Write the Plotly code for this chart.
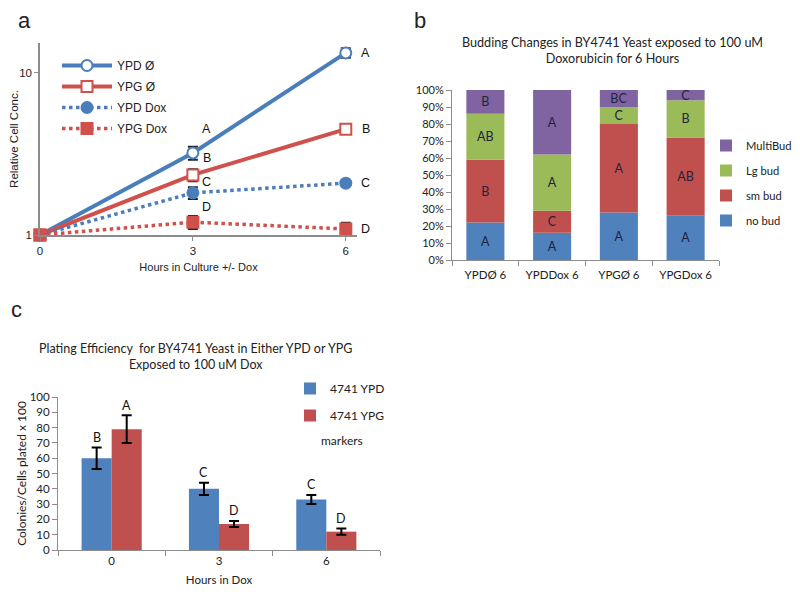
import math
import plotly.graph_objects as go

# ---------------- Panel a data ----------------
hours = [0, 3, 6]
ypd_ctrl = [1.0, 3.21, 13.3]
ypg_ctrl = [1.0, 2.35, 4.5]
ypd_dox = [1.0, 1.82, 2.09]
ypg_dox = [1.0, 1.20, 1.09]
ypd_ctrl_err = [0, 0.3, 0.9]
ypg_ctrl_err = [0, 0.2, 0.2]
ypd_dox_err = [0, 0.15, 0.08]
ypg_dox_err = [0, 0.11, 0.1]
a_letters_3h = ["A", "B", "C", "D"]
a_letters_6h = ["A", "B", "C", "D"]

# ---------------- Panel b data ----------------
b_cats = ["YPDØ 6", "YPDDox 6", "YPGØ 6", "YPGDox 6"]
no_bud = [22, 16, 28, 26]
sm_bud = [37, 13, 52, 46]
lg_bud = [27, 33, 10, 22]
multi_bud = [14, 38, 10, 6]
no_bud_lbl = ["A", "A", "A", "A"]
sm_bud_lbl = ["B", "C", "A", "AB"]
lg_bud_lbl = ["AB", "A", "C", "B"]
multi_bud_lbl = ["B", "A", "BC", "C"]

# ---------------- Panel c data ----------------
c_hours = ["0", "3", "6"]
c_ypd = [60, 40, 33]
c_ypd_err = [7, 4, 3]
c_ypg = [79, 17, 12]
c_ypg_err = [9, 2, 2]
c_ypd_lbl = ["B", "C", "C"]
c_ypg_lbl = ["A", "D", "D"]

BLUE = "#4F81BD"
RED = "#C0504D"
GREEN = "#9BBB59"
PURPLE = "#8064A2"
LA = "#4A7EBB"
LR = "#D0504B"
AX = "#8C8C8C"
TXT = "#222222"
ARIAL = "Liberation Sans, Arial"
CAL = "Lato, Carlito, Calibri"

fig = go.Figure()

# ----- Panel a traces -----
def add_a(name, y, err, color, dash, symbol, fill, grp):
    fig.add_trace(go.Scatter(
        x=hours, y=y, name=name, mode="lines+markers",
        line=dict(color=color, width=4 if dash == "solid" else 3.5, dash=dash),
        marker=dict(symbol=symbol, size=11, color=fill,
                    line=dict(color=color, width=2)),
        error_y=dict(type="data", array=err, color="#222222", thickness=2, width=5),
        xaxis="x", yaxis="y", legend="legend", legendgroup=grp,
        cliponaxis=False))

add_a("YPD Ø", ypd_ctrl, ypd_ctrl_err, LA, "solid", "circle", "white", "g1")
add_a("YPG Ø", ypg_ctrl, ypg_ctrl_err, LR, "solid", "square", "white", "g2")
add_a("YPD Dox", ypd_dox, ypd_dox_err, LA, "dot", "circle", LA, "g3")
add_a("YPG Dox", ypg_dox, ypg_dox_err, LR, "dot", "square", LR, "g4")

annotations = []
series_a = [ypd_ctrl, ypg_ctrl, ypd_dox, ypg_dox]
shifts_3h = [24, 17, 11, 15]
for s, lab, ysh in zip(series_a, a_letters_3h, shifts_3h):
    annotations.append(dict(x=3, y=math.log10(s[1]), xref="x", yref="y",
                            text=lab, showarrow=False, xshift=14, yshift=ysh,
                            font=dict(family=ARIAL, size=12.5, color="#111111")))
for s, lab in zip(series_a, a_letters_6h):
    annotations.append(dict(x=6, y=math.log10(s[2]), xref="x", yref="y",
                            text=lab, showarrow=False, xshift=20,
                            font=dict(family=ARIAL, size=12.5, color="#111111")))

# ----- Panel b traces (stacked through explicit cumulative bases) -----
base = [0] * len(b_cats)
for name, vals, lbl, col, rank in [
    ("no bud", no_bud, no_bud_lbl, BLUE, 4),
    ("sm bud", sm_bud, sm_bud_lbl, RED, 3),
    ("Lg bud", lg_bud, lg_bud_lbl, GREEN, 2),
    ("MultiBud", multi_bud, multi_bud_lbl, PURPLE, 1),
]:
    fig.add_trace(go.Bar(
        x=b_cats, y=vals, base=list(base), name=name,
        marker=dict(color=col, line=dict(width=0)), width=0.57,
        text=lbl, textposition="inside", insidetextanchor="middle", textangle=0,
        constraintext="none",
        textfont=dict(family=CAL, size=12.5, color="#1E2340"),
        xaxis="x2", yaxis="y2", legend="legend2", legendrank=rank,
        legendgroup=name))
    base = [b + v for b, v in zip(base, vals)]

# ----- Panel c traces -----
idx = list(range(len(c_hours)))
bw = 0.28
fig.add_trace(go.Bar(
    x=idx, y=c_ypd, name="4741 YPD", width=bw, offset=-bw,
    marker=dict(color=BLUE, line=dict(width=0)),
    error_y=dict(type="data", array=c_ypd_err, color="black", thickness=2, width=5),
    xaxis="x3", yaxis="y3", legend="legend3", legendgroup="c1"))
fig.add_trace(go.Bar(
    x=idx, y=c_ypg, name="4741 YPG", width=bw, offset=0,
    marker=dict(color=RED, line=dict(width=0)),
    error_y=dict(type="data", array=c_ypg_err, color="black", thickness=2, width=5),
    xaxis="x3", yaxis="y3", legend="legend3", legendgroup="c2"))
for i in idx:
    annotations.append(dict(x=i - bw / 2, y=c_ypd[i] + c_ypd_err[i], xref="x3", yref="y3",
                            text=c_ypd_lbl[i], showarrow=False, yshift=10,
                            font=dict(family=CAL, size=12.5, color="#111111")))
    annotations.append(dict(x=i + bw / 2, y=c_ypg[i] + c_ypg_err[i], xref="x3", yref="y3",
                            text=c_ypg_lbl[i], showarrow=False, yshift=10,
                            font=dict(family=CAL, size=12.5, color="#111111")))

# page body adds an 8px margin; map screenshot pixels to figure fractions
W, H = 800, 592
OFF = 8
def px(x):
    return (x - OFF) / W
def py(y):
    return 1 - (y - OFF) / H

def ptext(x, y, text, family, size, **kw):
    return dict(x=px(x), y=py(y), xref="paper", yref="paper", text=text,
                showarrow=False, xanchor="center", yanchor="middle",
                font=dict(family=family, size=size, color=TXT), **kw)

annotations += [
    ptext(24, 21, "a", ARIAL, 22),
    ptext(420, 21, "b", ARIAL, 22),
    ptext(16, 309, "c", ARIAL, 22),
    ptext(612, 51, "Budding Changes in BY4741 Yeast exposed to 100 uM<br>Doxorubicin for 6 Hours",
          CAL, 12.6, align="center"),
    ptext(195, 356, "Plating Efficiency  for BY4741 Yeast in Either YPD or YPG<br>Exposed to 100 uM Dox",
          CAL, 12.5, align="center"),
    ptext(342, 440, "markers", CAL, 12),
]

fig.update_layout(
    width=W, height=H, margin=dict(l=0, r=0, t=0, b=0, autoexpand=False),
    paper_bgcolor="white", plot_bgcolor="white",
    barmode="overlay",
    annotations=annotations,
    xaxis=dict(domain=[px(40), px(357)], range=[0, 6.22], tickvals=hours,
               ticks="outside", ticklen=4, tickcolor=AX, showgrid=False, zeroline=False,
               showline=True, linecolor=AX, linewidth=1.5, automargin=False,
               tickfont=dict(family=ARIAL, size=11.5, color=TXT),
               title=dict(text="Hours in Culture +/- Dox", standoff=8,
                          font=dict(family=ARIAL, size=11, color=TXT)),
               anchor="y"),
    yaxis=dict(domain=[py(235), py(43)], type="log", range=[0, 1.185],
               tickvals=[1, 10], ticktext=["1", "10"], ticks="outside", ticklen=4,
               tickcolor=AX, showgrid=False, zeroline=False, automargin=False,
               showline=True, linecolor=AX, linewidth=1.5,
               tickfont=dict(family=ARIAL, size=11.5, color=TXT),
               title=dict(text="Relative Cell Conc.", standoff=6,
                          font=dict(family=ARIAL, size=11.5, color=TXT)),
               anchor="x"),
    xaxis2=dict(domain=[px(452), px(719)], type="category", ticks="outside",
                tickson="boundaries", ticklen=5, tickcolor=AX, showline=True,
                linecolor=AX, showgrid=False, tickangle=0, automargin=False,
                ticklabelstandoff=4,
                tickfont=dict(family=CAL, size=11.5, color=TXT), anchor="y2"),
    yaxis2=dict(domain=[py(260), py(90)], range=[0, 100], dtick=10, ticksuffix="%",
                ticks="outside", ticklen=5, tickcolor=AX, showline=True, linecolor=AX,
                showgrid=False, zeroline=False, automargin=False,
                tickfont=dict(family=CAL, size=11, color=TXT), anchor="x2"),
    xaxis3=dict(domain=[px(58), px(380)], range=[-0.5, 2.5], tickvals=idx,
                ticktext=c_hours, ticks="", showline=True, linecolor=AX,
                showgrid=False, zeroline=False, tickangle=0, automargin=False,
                minor=dict(ticks="outside", tick0=-0.5, dtick=1, ticklen=5, tickcolor=AX),
                tickfont=dict(family=CAL, size=11.5, color=TXT),
                title=dict(text="Hours in Dox", standoff=10,
                           font=dict(family=CAL, size=11.5, color=TXT)),
                anchor="y3"),
    yaxis3=dict(domain=[py(550), py(397)], range=[0, 100], dtick=10,
                ticks="outside", ticklen=5, tickcolor=AX, showline=True, linecolor=AX,
                showgrid=False, zeroline=False, automargin=False,
                tickfont=dict(family=CAL, size=11.5, color=TXT),
                title=dict(text="Colonies/Cells plated x 100", standoff=0,
                           font=dict(family=CAL, size=12, color=TXT)),
                anchor="x3"),
    legend=dict(x=px(57), y=py(51), xanchor="left", yanchor="top",
                bgcolor="rgba(0,0,0,0)", tracegroupgap=2, itemwidth=50,
                font=dict(family=ARIAL, size=12, color=TXT)),
    legend2=dict(x=px(706), y=py(131), xanchor="left", yanchor="top",
                 traceorder="grouped", tracegroupgap=6,
                 bgcolor="rgba(0,0,0,0)", itemwidth=30,
                 font=dict(family=CAL, size=11.2, color=TXT)),
    legend3=dict(x=px(290), y=py(374), xanchor="left", yanchor="top",
                 tracegroupgap=8, bgcolor="rgba(0,0,0,0)", itemwidth=30,
                 font=dict(family=CAL, size=12, color=TXT)),
)

fig.write_html("out.html")
